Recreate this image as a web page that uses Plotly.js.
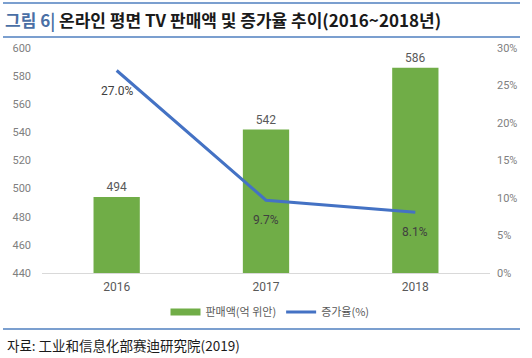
<!DOCTYPE html>
<html>
<head>
<meta charset="utf-8">
<script src="https://cdn.plot.ly/plotly-3.0.1.min.js"></script>
<style>html,body{margin:0;padding:0;background:#fff;}#chart{width:532px;height:358px;}</style>
</head>
<body>
<div id="chart"></div>
<script>
var years = ['2016', '2017', '2018'];
var sales = [494, 542, 586];
var growth = [0.270, 0.097, 0.081];
var salesLabels = ['494', '542', '586'];
var growthLabels = ['27.0%', '9.7%', '8.1%'];
var leftTicks = [440, 460, 480, 500, 520, 540, 560, 580, 600];
var rightTicks = [0, 0.05, 0.10, 0.15, 0.20, 0.25, 0.30];

var px = function (x) { return (x - 42) / 448; };
var py = function (y) { return (273 - y) / 225; };

var traces = [
  {
    type: 'bar', x: years, y: sales, name: '판매액(억 위안)', showlegend: false,
    marker: {color: '#70ad47'}, width: 0.31,
    text: salesLabels, textposition: 'outside', cliponaxis: false,
    textfont: {color: '#595959', size: 12}, hoverinfo: 'none'
  },
  {
    type: 'scatter', mode: 'lines', x: years, y: years.map(function () { return null; }),
    name: '판매액(억 위안)', line: {color: '#70ad47', width: 7}, hoverinfo: 'none'
  },
  {
    type: 'scatter', mode: 'lines', x: years, y: growth, yaxis: 'y2',
    name: '증가율(%)', line: {color: '#4472c4', width: 3}, hoverinfo: 'none'
  }
];

// category axis: annotation x given as the category index of each year
var growthAnnotations = years.map(function (yr, i) {
  return {
    x: i, y: growth[i], xref: 'x', yref: 'y2', text: growthLabels[i],
    showarrow: false, yshift: -20, xanchor: 'center', yanchor: 'middle',
    font: {family: 'Roboto, "Noto Sans CJK KR", sans-serif', size: 12, color: '#404040'}
  };
});

var layout = {
  width: 532, height: 358,
  margin: {l: 42, r: 42, t: 48, b: 85, pad: 0},
  paper_bgcolor: '#ffffff', plot_bgcolor: '#ffffff',
  font: {family: 'Roboto, "Noto Sans CJK KR", sans-serif', size: 11, color: '#7f7f7f'},
  showlegend: true,
  title: {
    text: '<span style="color:#4a6fa5">그림 6|</span> 온라인 평면 TV 판매액 및 증가율 추이(2016~2018년)',
    font: {family: '"Noto Sans CJK KR", sans-serif', size: 17, color: '#1a1a1a', weight: 'bold'},
    x: 5 / 532, xanchor: 'left', xref: 'container',
    y: 1 - 21 / 358, yanchor: 'middle', yref: 'container'
  },
  xaxis: {
    type: 'category', categoryorder: 'array', categoryarray: years,
    range: [-0.5, years.length - 0.5], autorange: false,
    showgrid: false, zeroline: false,
    showline: true, linecolor: '#d9d9d9', linewidth: 1,
    ticks: '', tickfont: {size: 12, color: '#595959'}, ticklabelstandoff: 3
  },
  yaxis: {
    range: [440, 600], tickvals: leftTicks, showgrid: false, zeroline: false,
    showline: false, ticks: '', tickfont: {size: 11, color: '#808080'}, ticklabelstandoff: 10
  },
  yaxis2: {
    range: [0, 0.30], tickvals: rightTicks, tickformat: '.0%', overlaying: 'y', side: 'right',
    showgrid: false, zeroline: false, showline: false, ticks: '',
    tickfont: {size: 11, color: '#808080'}, ticklabelstandoff: 6
  },
  legend: {
    orientation: 'h', x: px(270), xanchor: 'center', y: py(312), yanchor: 'middle',
    font: {family: '"Noto Sans CJK KR", sans-serif', size: 11, color: '#595959'},
    itemwidth: 30, traceorder: 'normal', tracegroupgap: 0
  },
  shapes: [
    {type: 'line', xref: 'paper', yref: 'paper', x0: px(3), x1: px(520), y0: py(3), y1: py(3), line: {color: '#4f7fbf', width: 1.5}},
    {type: 'line', xref: 'paper', yref: 'paper', x0: px(3), x1: px(520), y0: py(37), y1: py(37), line: {color: '#4f7fbf', width: 1.5}},
    {type: 'line', xref: 'paper', yref: 'paper', x0: px(3), x1: px(520), y0: py(329), y1: py(329), line: {color: '#4f7fbf', width: 1.5}}
  ],
  annotations: growthAnnotations.concat([
    {
      text: '자료: 工业和信息化部赛迪研究院(2019)', xref: 'paper', yref: 'paper',
      x: px(5), y: py(345), xanchor: 'left', yanchor: 'middle', showarrow: false,
      font: {family: '"Noto Sans CJK KR", sans-serif', size: 13.5, color: '#1a1a1a'}
    }
  ])
};

Plotly.newPlot('chart', traces, layout, {displayModeBar: false, staticPlot: true});
</script>
</body>
</html>
